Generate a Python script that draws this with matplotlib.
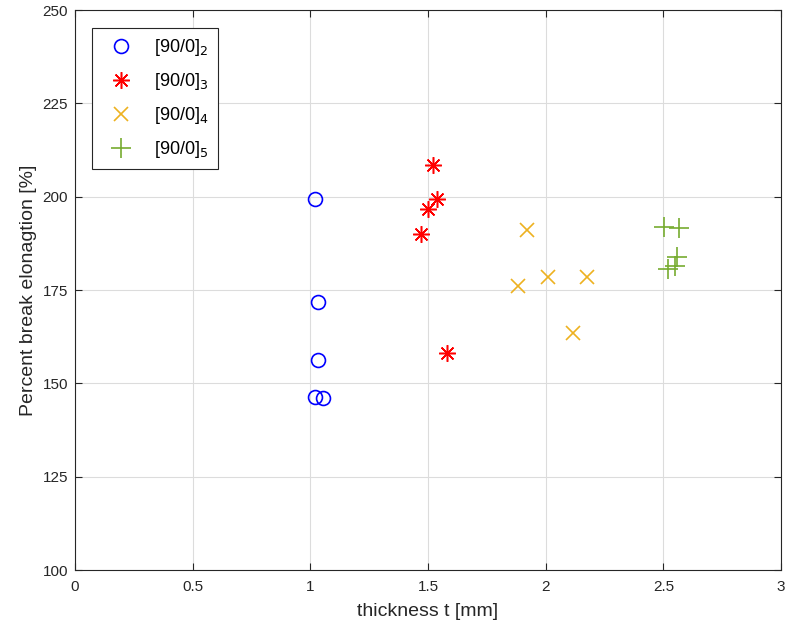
import matplotlib
matplotlib.use("Agg")
import matplotlib.pyplot as plt

plt.rcParams['font.family'] = ['Liberation Sans', 'DejaVu Sans']

# thickness [mm] and percent break elongation [%] per layup
t2 = [1.021, 1.034, 1.034, 1.020, 1.053]
e2 = [199.4, 171.9, 156.2, 146.4, 146.0]

t3 = [1.520, 1.537, 1.499, 1.472, 1.580]
e3 = [208.4, 199.3, 196.6, 190.0, 158.2]

t4 = [1.919, 1.881, 2.011, 2.174, 2.118]
e4 = [191.1, 176.1, 178.4, 178.4, 163.6]

t5 = [2.503, 2.568, 2.557, 2.549, 2.521]
e5 = [192.0, 191.7, 183.9, 181.4, 180.7]

labels = ['[90/0]$_2$', '[90/0]$_3$', '[90/0]$_4$', '[90/0]$_5$']
xticks = [0, 0.5, 1, 1.5, 2, 2.5, 3]
yticks = [100, 125, 150, 175, 200, 225, 250]

fig = plt.figure(figsize=(7.85, 6.25), dpi=100)
ax = fig.add_axes([0.0955, 0.088, 0.8995, 0.896])

ax.plot(t2, e2, 'o', mfc='none', mec='b', ms=10, mew=1.2, ls='none', label=labels[0])
ax.plot(t3, e3, marker=(8, 2, 0), color='r', ms=12, mew=1.1, ls='none', label=labels[1])
ax.plot(t4, e4, 'x', color='#EDB120', ms=10, mew=1.2, ls='none', label=labels[2])
ax.plot(t5, e5, '+', color='#77AC30', ms=14, mew=1.2, ls='none', label=labels[3])

ax.set_xlim(0, 3)
ax.set_ylim(100, 250)
ax.set_xticks(xticks)
ax.set_xticklabels(['0', '0.5', '1', '1.5', '2', '2.5', '3'])
ax.set_yticks(yticks)
ax.grid(True, color='#dcdcdc', lw=0.8)
ax.set_axisbelow(True)
ax.tick_params(direction='in', length=5, colors='#262626', labelsize=11, top=True, right=True,
               labeltop=False, labelright=False)
ax.tick_params(axis='x', pad=7)
ax.tick_params(axis='y', pad=5)
for s in ax.spines.values():
    s.set_color('#262626')
    s.set_linewidth(0.8)

ax.set_xlabel('thickness t [mm]', fontsize=14, color='#262626', labelpad=7)
ax.set_ylabel('Percent break elonagtion [%]', fontsize=14, color='#262626', labelpad=4)

leg = ax.legend(loc='upper left', bbox_to_anchor=(0.024, 0.968), borderaxespad=0, fontsize=13,
                fancybox=False, edgecolor='#262626', framealpha=1, handletextpad=0.75,
                labelspacing=0.72, borderpad=0.5, handlelength=2.2)
leg.get_frame().set_linewidth(0.8)

fig.savefig('out.png', dpi=100)
